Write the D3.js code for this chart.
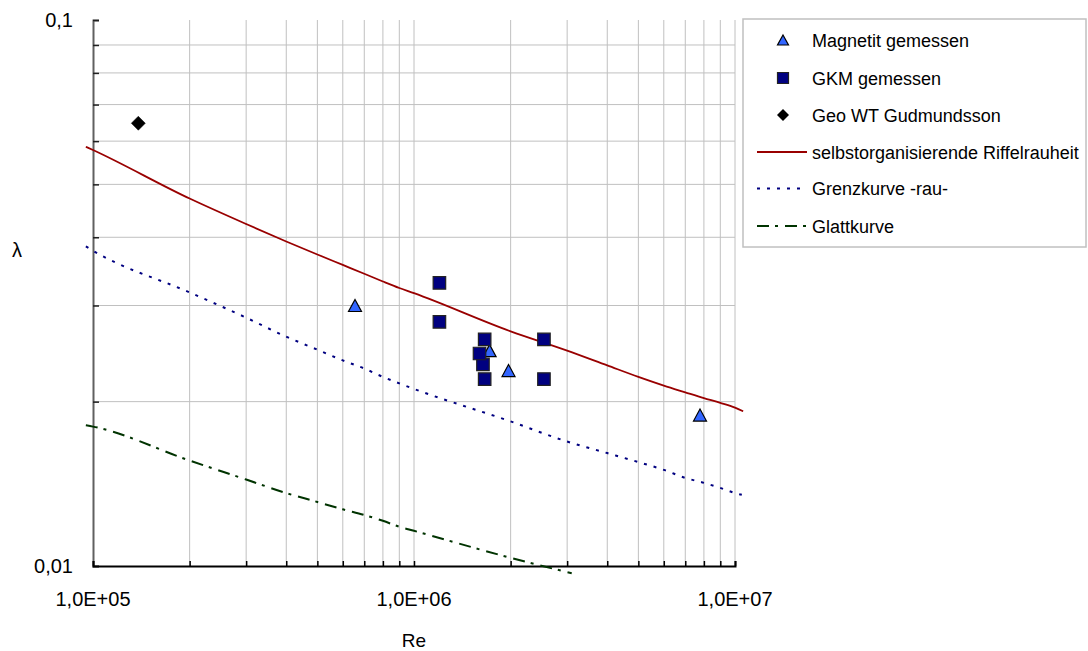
<!DOCTYPE html>
<html><head><meta charset="utf-8">
<script src="https://cdn.jsdelivr.net/npm/d3@7"></script>
<style>body{margin:0;background:#fff;} svg{display:block;font-family:"Liberation Sans",Arial,sans-serif;}</style>
</head><body>
<svg id="c" width="1088" height="651"></svg>
<script>
// ---- data ----
const magRe = [6.55e5, 1.72e6, 1.97e6, 7.78e6];
const magL  = [0.0300, 0.0248, 0.0228, 0.0189];

const gkmRe = [1.2e6, 1.2e6, 1.66e6, 1.64e6, 1.6e6, 1.66e6, 2.54e6, 2.54e6];
const gkmL  = [0.0330, 0.0280, 0.0260, 0.0234, 0.0245, 0.0220, 0.0260, 0.0220];

const geoRe = [1.384e5];
const geoL  = [0.0647];

const riffRe = [9.5e4, 1e5, 2e5, 3e5, 4e5, 5e5, 6e5, 7e5, 8e5, 9e5, 1e6, 2e6, 3e6, 4e6, 5e6, 6e6, 7e6, 8e6, 9e6, 1e7, 1.06e7];
const riffL  = [0.0586, 0.0578, 0.0471, 0.0423, 0.0393, 0.0372, 0.0356, 0.0343, 0.0332, 0.0323, 0.0316, 0.0269, 0.0248, 0.0233, 0.0222, 0.0214, 0.0208, 0.0203, 0.0199, 0.0195, 0.0192];

const grenzRe = [9.5e4, 1e5, 2e5, 3e5, 4e5, 5e5, 6e5, 7e5, 8e5, 9e5, 1e6, 2e6, 3e6, 4e6, 5e6, 6e6, 7e6, 8e6, 9e6, 1e7, 1.05e7];
const grenzL  = [0.0385, 0.0378, 0.0317, 0.0285, 0.0263, 0.0249, 0.0238, 0.0230, 0.0222, 0.0216, 0.0211, 0.0184, 0.0169, 0.0161, 0.0155, 0.0150, 0.0145, 0.0142, 0.0139, 0.0136, 0.0135];

const glattRe = [9.5e4, 1e5, 2e5, 3e5, 4e5, 5e5, 6e5, 7e5, 8e5, 9e5, 1e6, 2e6, 3.1e6];
const glattL  = [0.0181, 0.0180, 0.0156, 0.0144, 0.0136, 0.0131, 0.0127, 0.0124, 0.0121, 0.0118, 0.0116, 0.01035, 0.0097];

const xTickVals = [1e5, 1e6, 1e7];
const xTickLabels = ["1,0E+05", "1,0E+06", "1,0E+07"];
const yTickVals = [0.01, 0.1];
const yTickLabels = ["0,01", "0,1"];

const legendNames = ["Magnetit gemessen", "GKM gemessen", "Geo WT Gudmundsson",
  "selbstorganisierende Riffelrauheit", "Grenzkurve -rau-", "Glattkurve"];

// ---- drawing ----
const svg = d3.select("#c");
const x = d3.scaleLog().domain([1e5, 1e7]).range([93, 735]);
const y = d3.scaleLog().domain([0.01, 0.1]).range([566, 20]);

const xMinor = [];
for (let d = 1e5; d < 1e7; d *= 10) for (let k = 2; k <= 10; k++) xMinor.push(d * k);
const yMinor = [];
for (let k = 2; k <= 9; k++) yMinor.push(k / 100);

// grid
svg.append("g").selectAll("line").data(xMinor).join("line")
  .attr("x1", d => x(d)).attr("x2", d => x(d)).attr("y1", y(0.1)).attr("y2", y(0.01))
  .attr("stroke", "#c0c0c0").attr("stroke-width", 1);
svg.append("g").selectAll("line").data(yMinor).join("line")
  .attr("x1", x(1e5)).attr("x2", x(1e7)).attr("y1", d => y(d)).attr("y2", d => y(d))
  .attr("stroke", "#c0c0c0").attr("stroke-width", 1);

// axes
const yAxis = d3.axisLeft(y).tickValues([0.01].concat(yMinor, [0.1])).tickSize(-6).tickFormat("");
const gy = svg.append("g").attr("transform", `translate(${x(1e5)},0)`).call(yAxis);
gy.select(".domain").attr("stroke", "#606060").attr("stroke-width", 2);
gy.selectAll(".tick line").attr("stroke", "#202020").attr("stroke-width", 1.5);

const xAxis = d3.axisBottom(x).tickValues([1e5].concat(xMinor)).tickSize(-5).tickFormat("");
const gx = svg.append("g").attr("transform", `translate(0,${y(0.01)})`).call(xAxis);
gx.select(".domain").attr("stroke", "#000").attr("stroke-width", 2);
gx.selectAll(".tick line").attr("stroke", "#000").attr("stroke-width", 1.5);

// tick labels
svg.append("g").selectAll("text").data(xTickVals).join("text")
  .attr("x", d => x(d)).attr("y", 606).attr("text-anchor", "middle")
  .attr("font-size", 20).attr("fill", "#000").text((d, i) => xTickLabels[i]);
svg.append("g").selectAll("text").data(yTickVals).join("text")
  .attr("x", 73).attr("y", d => y(d) + 7).attr("text-anchor", "end")
  .attr("font-size", 20).attr("fill", "#000").text((d, i) => yTickLabels[i]);

svg.append("text").attr("x", 414).attr("y", 647).attr("text-anchor", "middle")
  .attr("font-size", 19).text("Re");
svg.append("text").attr("x", 17).attr("y", 257).attr("text-anchor", "middle")
  .attr("font-size", 20).text("λ");

// lines
const line = d3.line().x(d => x(d[0])).y(d => y(d[1])).curve(d3.curveMonotoneX);
const styles = [
  {re: riffRe, l: riffL, color: "#990000", w: 1.8, dash: null},
  {re: grenzRe, l: grenzL, color: "#000080", w: 2, dash: "3,7"},
  {re: glattRe, l: glattL, color: "#003300", w: 2, dash: "12,6,3,7"}
];
styles.forEach(s => {
  svg.append("path").datum(d3.zip(s.re, s.l)).attr("d", line)
    .attr("fill", "none").attr("stroke", s.color).attr("stroke-width", s.w)
    .attr("stroke-dasharray", s.dash);
});

// markers
function tri(cx, cy, w, h) {
  return `M${cx},${cy - h/2}L${cx + w/2},${cy + h/2}L${cx - w/2},${cy + h/2}Z`;
}
function sq(cx, cy, s) {
  return `M${cx - s/2},${cy - s/2}h${s}v${s}h${-s}Z`;
}
function dia(cx, cy, s) {
  return `M${cx},${cy - s/2}L${cx + s/2},${cy}L${cx},${cy + s/2}L${cx - s/2},${cy}Z`;
}
svg.append("g").selectAll("path").data(d3.zip(magRe, magL)).join("path")
  .attr("d", d => tri(x(d[0]), y(d[1]), 13, 12))
  .attr("fill", "#3366ff").attr("stroke", "#000").attr("stroke-width", 1.2);
svg.append("g").selectAll("path").data(d3.zip(gkmRe, gkmL)).join("path")
  .attr("d", d => sq(x(d[0]), y(d[1]), 12.5))
  .attr("fill", "#000080").attr("stroke", "#222").attr("stroke-width", 1.2);
svg.append("g").selectAll("path").data(d3.zip(geoRe, geoL)).join("path")
  .attr("d", d => dia(x(d[0]), y(d[1]), 14))
  .attr("fill", "#000").attr("stroke", "#000").attr("stroke-width", 0.5);

// legend
const lg = svg.append("g");
lg.append("rect").attr("x", 743).attr("y", 19).attr("width", 343).attr("height", 228)
  .attr("fill", "#fff").attr("stroke", "#c0c0c0").attr("stroke-width", 1.5);
const ly = [40, 78, 115, 152, 188.5, 226];
lg.selectAll("text").data(legendNames).join("text")
  .attr("x", 812).attr("y", (d, i) => ly[i] + 6.5).attr("font-size", 18).text(d => d);
lg.append("path").attr("d", tri(783, ly[0], 11, 10)).attr("fill", "#3366ff").attr("stroke", "#000").attr("stroke-width", 1.2);
lg.append("path").attr("d", sq(783, ly[1], 11)).attr("fill", "#000080").attr("stroke", "#222").attr("stroke-width", 1.2);
lg.append("path").attr("d", dia(783, ly[2], 12)).attr("fill", "#000");
styles.forEach((s, i) => {
  lg.append("line").attr("x1", 757).attr("x2", 807).attr("y1", ly[3 + i]).attr("y2", ly[3 + i])
    .attr("stroke", s.color).attr("stroke-width", s.w).attr("stroke-dasharray", s.dash);
});
</script>
</body></html>
